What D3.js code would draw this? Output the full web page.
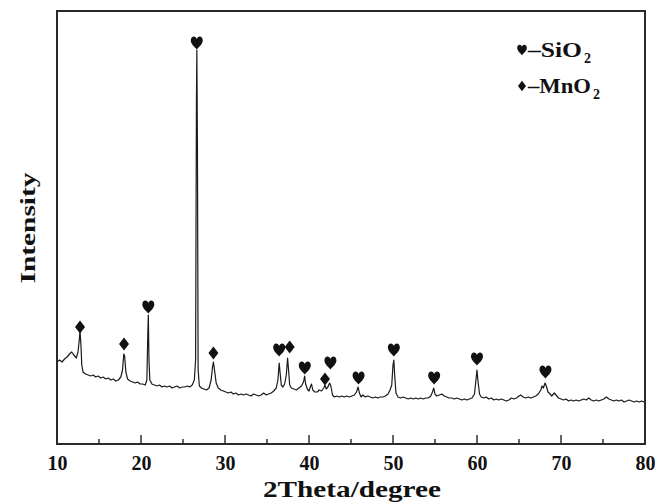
<!DOCTYPE html>
<html>
<head>
<meta charset="utf-8">
<script src="https://cdn.jsdelivr.net/npm/d3@7"></script>
<style>
  body { margin: 0; background: #fff; }
</style>
</head>
<body>
<div id="chart"></div>
<script>
const width = 666;
const height = 502;
const margin = { top: 11, right: 21, bottom: 58, left: 57 };
const serif = "'Liberation Serif', 'Times New Roman', Times, serif";

// XRD pattern: [2theta, intensity (a.u.)]
const pattern = [
  [10.0,82],[10.3,84],[10.6,82],[10.9,85],[11.2,87],[11.5,90],[11.75,92],[12.0,89],[12.3,86],[12.5,92],
  [12.65,104],[12.74,113],[12.85,99],[12.95,79],[13.1,72],[13.4,70],[13.7,69],[14.0,68],[14.3,69],[14.6,67],
  [14.9,68],[15.2,66],[15.5,67],[15.8,65],[16.1,66],[16.4,64],[16.7,65],[17.0,63],[17.3,64],[17.6,67],
  [17.8,74],[17.95,90],[18.05,88],[18.2,72],[18.4,65],[18.7,63],[19.0,62],[19.3,61],[19.6,62],[19.9,60],
  [20.2,60],[20.5,59],[20.7,64],[20.82,114],[20.87,129],[20.95,84],[21.05,64],[21.3,60],[21.6,59],[21.9,58],
  [22.2,59],[22.5,57],[22.8,58],[23.1,57],[23.4,58],[23.7,56],[24.0,57],[24.3,58],[24.6,56],[24.9,57],
  [25.2,57],[25.5,58],[25.8,57],[26.1,59],[26.35,64],[26.5,84],[26.6,344],[26.65,394],[26.72,294],[26.8,74],
  [26.95,58],[27.2,56],[27.5,55],[27.8,54],[28.1,56],[28.35,64],[28.5,76],[28.62,82],[28.75,74],[28.95,61],
  [29.2,56],[29.5,54],[29.8,53],[30.1,52],[30.4,51],[30.7,52],[31.0,50],[31.3,51],[31.6,49],[31.9,50],
  [32.2,49],[32.5,50],[32.8,49],[33.1,48],[33.4,50],[33.7,49],[34.0,48],[34.3,49],[34.6,51],[34.9,49],
  [35.2,50],[35.5,51],[35.8,53],[36.1,56],[36.3,64],[36.45,81],[36.55,72],[36.7,59],[36.9,57],[37.1,60],
  [37.3,69],[37.45,86],[37.55,76],[37.7,59],[37.9,56],[38.2,55],[38.5,54],[38.8,56],[39.1,58],[39.35,62],
  [39.48,68],[39.6,60],[39.8,55],[40.0,53],[40.2,58],[40.3,60],[40.45,54],[40.7,52],[41.0,52],[41.2,54],
  [41.5,53],[41.75,56],[41.9,59],[42.05,55],[42.25,57],[42.45,61],[42.6,58],[42.8,49],[43.0,47],[43.3,48],
  [43.6,47],[43.9,48],[44.2,47],[44.5,48],[44.8,47],[45.1,48],[45.4,49],[45.65,52],[45.85,57],[46.0,51],
  [46.2,47],[46.4,49],[46.7,47],[47.0,48],[47.3,47],[47.6,46],[47.9,47],[48.2,46],[48.5,47],[48.8,47],
  [49.1,48],[49.4,50],[49.65,54],[49.85,59],[50.0,79],[50.1,84],[50.2,69],[50.35,51],[50.6,47],[50.9,46],
  [51.2,47],[51.5,46],[51.8,45],[52.1,46],[52.4,45],[52.7,46],[53.0,45],[53.3,46],[53.6,45],[53.9,46],
  [54.2,46],[54.5,48],[54.7,52],[54.85,56],[55.0,50],[55.2,48],[55.5,49],[55.8,50],[56.1,48],[56.4,47],
  [56.7,46],[57.0,46],[57.3,45],[57.6,46],[57.9,45],[58.2,44],[58.5,45],[58.8,44],[59.1,45],[59.4,46],
  [59.7,50],[59.9,66],[60.0,74],[60.1,64],[60.3,50],[60.5,47],[60.8,46],[61.1,47],[61.4,45],[61.7,46],
  [62.0,44],[62.3,45],[62.6,44],[62.9,45],[63.2,44],[63.5,43],[63.8,44],[64.1,46],[64.4,45],[64.7,46],
  [65.0,48],[65.2,49],[65.5,47],[65.8,46],[66.1,47],[66.4,46],[66.7,47],[67.0,48],[67.3,50],[67.6,54],
  [67.75,58],[67.9,56],[68.1,61],[68.25,58],[68.45,52],[68.7,50],[68.9,48],[69.2,51],[69.4,49],[69.7,46],
  [70.0,45],[70.3,44],[70.6,45],[70.9,43],[71.2,44],[71.5,43],[71.8,44],[72.1,43],[72.4,44],[72.7,45],
  [73.0,44],[73.3,46],[73.6,44],[73.9,43],[74.2,44],[74.5,43],[74.8,44],[75.1,45],[75.4,47],[75.7,45],
  [76.0,44],[76.3,43],[76.6,44],[76.9,43],[77.2,44],[77.5,42],[77.8,43],[78.1,44],[78.4,43],[78.7,42],
  [79.0,43],[79.3,42],[79.6,43],[79.9,42]
];

// phase markers: [2theta, marker level, phase]
const peakMarks = [
  [12.74,117,"MnO2"],[17.98,100,"MnO2"],[20.87,137,"SiO2"],[26.64,401,"SiO2"],
  [28.62,91,"MnO2"],[36.45,94,"SiO2"],[37.7,97,"MnO2"],[39.5,76,"SiO2"],
  [41.9,65,"MnO2"],[42.55,81,"SiO2"],[45.9,66,"SiO2"],[50.1,94,"SiO2"],
  [54.9,66,"SiO2"],[60.0,85,"SiO2"],[68.15,72,"SiO2"]
];

const majorTicks = [10, 20, 30, 40, 50, 60, 70, 80];
const minorTicks = [15, 25, 35, 45, 55, 65, 75];

const heartPath = "M0,6.5C-2,4 -6,1 -6,-2.5C-6,-5 -4.5,-6.5 -3,-6.5C-1.5,-6.5 -0.5,-5.5 0,-4C0.5,-5.5 1.5,-6.5 3,-6.5C4.5,-6.5 6,-5 6,-2.5C6,1 2,4 0,6.5Z";
const diamondPath = "M0,-6.5L5,0L0,6.5L-5,0Z";
const markPath = p => p === "SiO2" ? heartPath : diamondPath;

const x = d3.scaleLinear().domain([10, 80]).range([margin.left, width - margin.right]);
const y = d3.scaleLinear().domain([0, 433]).range([height - margin.bottom, margin.top]);

const svg = d3.select("#chart").append("svg")
  .attr("width", width)
  .attr("height", height)
  .attr("font-family", serif)
  .attr("font-weight", "bold");

svg.append("rect").attr("width", width).attr("height", height).attr("fill", "#fff");

// pattern line
const line = d3.line().x(d => x(d[0])).y(d => y(d[1]));
svg.append("path")
  .datum(pattern)
  .attr("d", line)
  .attr("fill", "none")
  .attr("stroke", "#1a1a1a")
  .attr("stroke-width", 1.2)
  .attr("stroke-linejoin", "round");

// phase markers
svg.selectAll(".mark")
  .data(peakMarks)
  .join("path")
  .attr("class", "mark")
  .attr("d", d => markPath(d[2]))
  .attr("transform", d => `translate(${x(d[0])},${y(d[1])})`)
  .attr("fill", "#111");

// bottom axis with inward ticks
const yBottom = height - margin.bottom;
const xAxis = d3.axisBottom(x).tickValues(majorTicks).tickSize(0).tickPadding(12).tickFormat(d3.format("d"));
const gx = svg.append("g").attr("transform", `translate(0,${yBottom})`).call(xAxis)
  .attr("font-family", serif).attr("font-size", 20);
gx.select(".domain").remove();
gx.selectAll("text").attr("fill", "#111");

svg.selectAll(".major")
  .data(majorTicks.slice(1, -1))
  .join("line")
  .attr("x1", d => x(d)).attr("x2", d => x(d))
  .attr("y1", yBottom).attr("y2", yBottom - 9)
  .attr("stroke", "#333").attr("stroke-width", 1.5);
svg.selectAll(".minor")
  .data(minorTicks)
  .join("line")
  .attr("x1", d => x(d)).attr("x2", d => x(d))
  .attr("y1", yBottom).attr("y2", yBottom - 5)
  .attr("stroke", "#333").attr("stroke-width", 1.5);

// frame
svg.append("rect")
  .attr("x", margin.left).attr("y", margin.top)
  .attr("width", width - margin.left - margin.right)
  .attr("height", height - margin.top - margin.bottom)
  .attr("fill", "none")
  .attr("stroke", "#2a2a2a")
  .attr("stroke-width", 2);

// axis titles
svg.append("text")
  .attr("x", 352).attr("y", 497)
  .attr("text-anchor", "middle")
  .attr("font-size", 23)
  .attr("fill", "#111")
  .attr("textLength", 178)
  .attr("lengthAdjust", "spacingAndGlyphs")
  .text("2Theta/degree");

svg.append("text")
  .attr("transform", "translate(35,228) rotate(-90)")
  .attr("text-anchor", "middle")
  .attr("font-size", 22)
  .attr("fill", "#111")
  .attr("textLength", 111)
  .attr("lengthAdjust", "spacingAndGlyphs")
  .text("Intensity");

// legend
const legend = [
  { phase: "SiO2", label: "\u2013SiO", sub: "2", y: 50, len: 54, subX: 584 },
  { phase: "MnO2", label: "\u2013MnO", sub: "2", y: 86, len: 63, subX: 593 }
];
const lg = svg.selectAll(".legend").data(legend).join("g").attr("class", "legend");
lg.append("path")
  .attr("d", d => markPath(d.phase))
  .attr("transform", d => `translate(522,${d.y}) scale(0.8)`)
  .attr("fill", "#111");
lg.append("text")
  .attr("x", 528).attr("y", d => d.y + 7)
  .attr("font-size", 21)
  .attr("fill", "#111")
  .attr("textLength", d => d.len)
  .attr("lengthAdjust", "spacingAndGlyphs")
  .text(d => d.label);
lg.append("text")
  .attr("x", d => d.subX).attr("y", d => d.y + 13)
  .attr("font-size", 14)
  .attr("fill", "#111")
  .text(d => d.sub);
</script>
</body>
</html>
